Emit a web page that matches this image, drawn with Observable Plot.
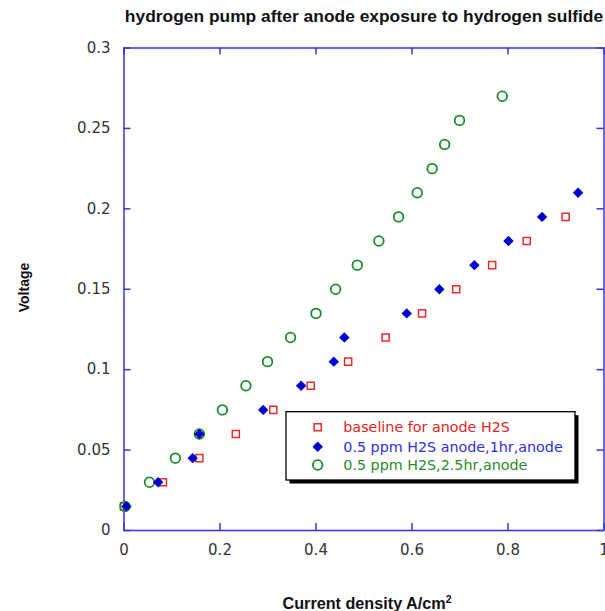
<!DOCTYPE html>
<html>
<head>
<meta charset="utf-8">
<script src="https://cdn.jsdelivr.net/npm/d3@7"></script>
<script src="https://cdn.jsdelivr.net/npm/@observablehq/plot@0.6"></script>
<style>
  html, body { margin: 0; padding: 0; background: white; }
  #chart { width: 605px; height: 611px; position: relative; overflow: hidden; }
</style>
</head>
<body>
<div id="chart"></div>
<script>
// ---- data ----
const titleText = "hydrogen pump after anode exposure to hydrogen sulfide";
const xLabel = "Current density A/cm";
const yLabel = "Voltage";
const seriesNames = ["baseline for anode H2S", "0.5 ppm H2S anode,1hr,anode", "0.5 ppm H2S,2.5hr,anode"];

const xTicks = [0, 0.2, 0.4, 0.6, 0.8, 1];
const yTicks = [0, 0.05, 0.1, 0.15, 0.2, 0.25, 0.3];

// baseline (red squares)
const baseX = [0.000, 0.081, 0.157, 0.233, 0.311, 0.389, 0.467, 0.545, 0.621, 0.692, 0.767, 0.839, 0.920];
const baseV = [0.015, 0.030, 0.045, 0.060, 0.075, 0.090, 0.105, 0.120, 0.135, 0.150, 0.165, 0.180, 0.195];

// 0.5 ppm, 1 hr (blue diamonds)
const h1X = [0.005, 0.071, 0.143, 0.157, 0.290, 0.369, 0.437, 0.459, 0.589, 0.657, 0.730, 0.801, 0.871, 0.946];
const h1V = [0.015, 0.030, 0.045, 0.060, 0.075, 0.090, 0.105, 0.120, 0.135, 0.150, 0.165, 0.180, 0.195, 0.210];

// 0.5 ppm, 2.5 hr (green circles)
const h25X = [0.002, 0.053, 0.107, 0.157, 0.205, 0.254, 0.299, 0.347, 0.400, 0.441, 0.486, 0.531, 0.572, 0.611, 0.642, 0.668, 0.699, 0.788];
const h25V = [0.015, 0.030, 0.045, 0.060, 0.075, 0.090, 0.105, 0.120, 0.135, 0.150, 0.165, 0.180, 0.195, 0.210, 0.225, 0.240, 0.255, 0.270];

const redC = "#ec2b2b", blueC = "#0000cc", greenC = "#1c8a2c";
const redT = "#e02424", blueT = "#3030dc", greenT = "#2a8a2a";
const axisC = "#3636d8";

const toRows = (xs, ys) => xs.map((x, i) => ({x, y: ys[i]}));
const base = toRows(baseX, baseV);
const h1 = toRows(h1X, h1V);
const h25 = toRows(h25X, h25V);

const W = 605, H = 611, mL = 123.5, mR = 1.5, mT = 47.5, mB = 81;
const fw = W - mL - mR, fh = H - mT - mB, tk = 7;
const fmt = d => String(+d.toFixed(2));

const svg = Plot.plot({
  width: W, height: H,
  marginLeft: mL, marginRight: mR, marginTop: mT, marginBottom: mB,
  x: {domain: [0, 1], label: null},
  y: {domain: [0, 0.3], label: null},
  style: {fontFamily: "'DejaVu Sans', sans-serif", fontSize: "15px", color: "#333", background: "white", overflow: "visible"},
  marks: [
    Plot.frame({stroke: axisC, strokeWidth: 1.5}),
    Plot.tickX(xTicks, {x: d => d, insetTop: fh - tk, stroke: axisC, strokeWidth: 1.5}),
    Plot.tickX(xTicks, {x: d => d, insetBottom: fh - tk, stroke: axisC, strokeWidth: 1.5}),
    Plot.tickY(yTicks, {y: d => d, insetRight: fw - tk, stroke: axisC, strokeWidth: 1.5}),
    Plot.tickY(yTicks, {y: d => d, insetLeft: fw - tk, stroke: axisC, strokeWidth: 1.5}),
    Plot.axisX({ticks: xTicks, tickSize: 0, tickPadding: 14, tickFormat: fmt, fill: "#333", label: null}),
    Plot.axisY({ticks: yTicks, tickSize: 0, tickPadding: 13.5, tickFormat: fmt, fill: "#333", label: null}),
    Plot.dot(base, {x: "x", y: "y", symbol: "square", r: 4.0, stroke: redC, strokeWidth: 1.5, fill: "none"}),
    Plot.dot(h25, {x: "x", y: "y", symbol: "circle", r: 4.8, stroke: greenC, strokeWidth: 1.8, fill: "none"}),
    Plot.dot(h1, {x: "x", y: "y", symbol: "diamond2", r: 4.7, fill: blueC, stroke: "none"})
  ]
});

const s = d3.select(svg);
const boldFont = "'Liberation Sans', Arial, sans-serif";

// title
s.append("text").attr("x", 364).attr("y", 22).attr("text-anchor", "middle")
  .attr("font-family", boldFont).attr("font-weight", "bold").attr("font-size", 17.4).attr("fill", "#111")
  .text(titleText);

// x label
const xl = s.append("text").attr("x", 367).attr("y", 609).attr("text-anchor", "middle")
  .attr("font-family", boldFont).attr("font-weight", "bold").attr("font-size", 16.2).attr("fill", "#111");
xl.append("tspan").text(xLabel);
xl.append("tspan").attr("font-size", 10.5).attr("dy", -6).text("2");

// y label
s.append("text").attr("transform", "translate(29,287.5) rotate(-90)").attr("text-anchor", "middle")
  .attr("font-family", boldFont).attr("font-weight", "bold").attr("font-size", 14).attr("fill", "#111")
  .text(yLabel);

// legend
const lg = s.append("g").attr("text-anchor", "start");
const lx = 286, ly = 411.7, lw = 289, lh = 68.3;
lg.append("rect").attr("x", lx + 3.5).attr("y", ly + 3.5).attr("width", lw).attr("height", lh).attr("fill", "#000");
lg.append("rect").attr("x", lx).attr("y", ly).attr("width", lw).attr("height", lh).attr("fill", "white").attr("stroke", "#000").attr("stroke-width", 1.3);
const rowsY = [427.3, 446.7, 465];
const legSym = [
  {sym: d3.symbolSquare, size: Math.PI * 4.0 * 4.0, fill: "none", stroke: redC, sw: 1.5, col: redT},
  {sym: d3.symbolDiamond2, size: Math.PI * 4.7 * 4.7, fill: blueC, stroke: "none", sw: 0, col: blueT},
  {sym: d3.symbolCircle, size: Math.PI * 4.8 * 4.8, fill: "none", stroke: greenC, sw: 1.8, col: greenT}
];
legSym.forEach((d, i) => {
  lg.append("path").attr("transform", `translate(317.7,${rowsY[i]})`)
    .attr("d", d3.symbol(d.sym, d.size)()).attr("fill", d.fill).attr("stroke", d.stroke).attr("stroke-width", d.sw);
  lg.append("text").attr("x", 343.3).attr("y", rowsY[i] + 5).attr("text-anchor", "start")
    .attr("font-family", "'DejaVu Sans', sans-serif").attr("font-size", 14.3).attr("fill", d.col)
    .text(seriesNames[i]);
});

document.getElementById("chart").appendChild(svg);
</script>
</body>
</html>
